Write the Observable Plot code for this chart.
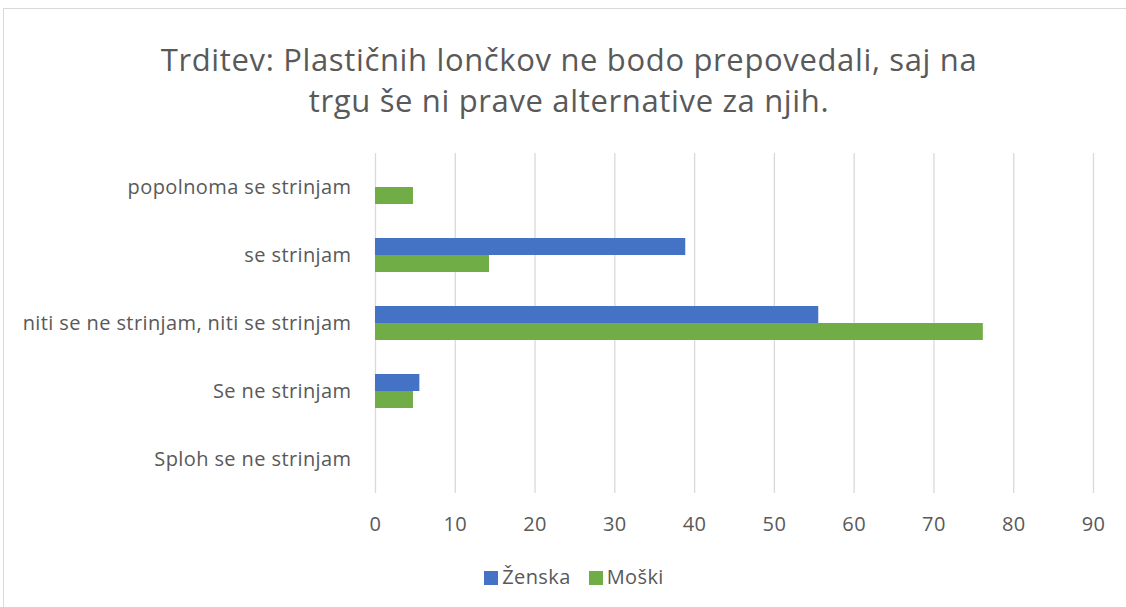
<!DOCTYPE html>
<html><head><meta charset="utf-8">
<script src="https://cdn.jsdelivr.net/npm/d3@7"></script>
<script src="https://cdn.jsdelivr.net/npm/@observablehq/plot@0.6"></script>
<style>
body{margin:0;background:#fff;font-family:"Open Sans",sans-serif;color:#595959;overflow:hidden;width:1126px;height:607px;position:relative}
#frame{position:absolute;left:3px;top:8px;width:1140px;height:620px;border:1px solid #d9d9d9;box-sizing:border-box}
#title{position:absolute;left:0;top:39px;width:1138px;text-align:center;font-size:31px;line-height:41px;letter-spacing:0.65px;color:#595959}
#chart{position:absolute;left:0;top:140px}
#legend{position:absolute;left:0;top:563px;width:1148px;text-align:center;font-size:20px;line-height:28px;letter-spacing:0.4px}
#legend span.sw{display:inline-block;width:14px;height:14px;margin-right:4px;vertical-align:-1px}
#legend span.it{margin:0 9px}
svg text{letter-spacing:0.4px}
</style></head>
<body>
<div id="frame"></div>
<div id="title">Trditev: Plastičnih lončkov ne bodo prepovedali, saj na<br>trgu še ni prave alternative za njih.</div>
<div id="chart"></div>
<div id="legend"></div>
<script>
const categories = ["popolnoma se strinjam","se strinjam","niti se ne strinjam, niti se strinjam","Se ne strinjam","Sploh se ne strinjam"];
const series = ["Ženska","Moški"];
const zenska = [0, 38.89, 55.56, 5.56, 0];
const moski = [4.76, 14.29, 76.19, 4.76, 0];
const xTicks = [0,10,20,30,40,50,60,70,80,90];
const colors = ["#4472C4","#70AD47"];

const data = [];
categories.forEach((c,i)=>{
  data.push({category:c, series:series[0], value:zenska[i]});
  data.push({category:c, series:series[1], value:moski[i]});
});

const chart = Plot.plot({
  width:1126, height:403,
  marginLeft:375, marginRight:33, marginTop:13, marginBottom:50,
  style:{fontFamily:"'Open Sans',sans-serif", fontSize:"20px", color:"#595959", background:"transparent"},
  x:{domain:[0,90], ticks:xTicks, tickSize:0, tickPadding:23, label:null},
  fy:{domain:categories, padding:0, label:null, tickSize:0, tickPadding:24, axis:"left"},
  y:{domain:series, paddingInner:0, paddingOuter:1, axis:null},
  color:{domain:series, range:colors},
  marks:[
    Plot.gridX(xTicks,{stroke:"#d9d9d9", strokeOpacity:1, strokeWidth:1.3}),
    Plot.barX(data,{x:"value", y:"series", fy:"category", fill:"series"})
  ]
});
document.getElementById("chart").appendChild(chart);

const lg = document.getElementById("legend");
series.forEach((s,i)=>{
  const it = document.createElement("span");
  it.className="it";
  it.innerHTML = `<span class="sw" style="background:${colors[i]}"></span>${s}`;
  lg.appendChild(it);
});
</script>
</body></html>
